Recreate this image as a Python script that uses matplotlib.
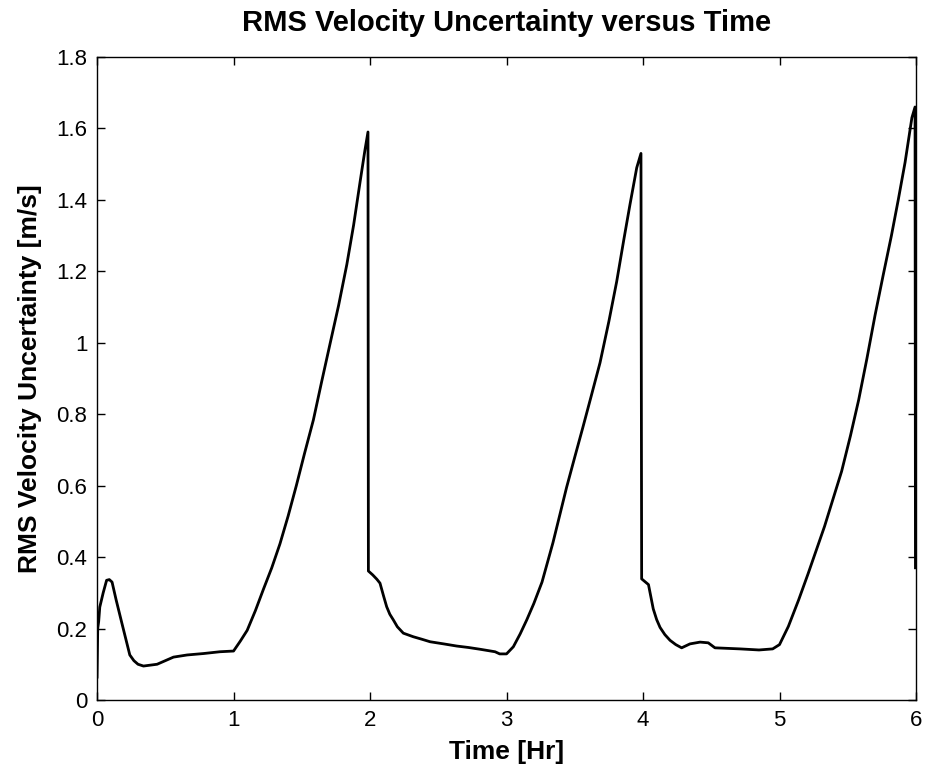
import numpy as np
import matplotlib
matplotlib.use("Agg")
import matplotlib.pyplot as plt
from matplotlib.ticker import FuncFormatter

plt.rcParams['font.family'] = ['Liberation Sans', 'DejaVu Sans']

# values
time_hr = [0.0, 0.005, 0.012, 0.02, 0.045, 0.07, 0.09, 0.11, 0.14, 0.18, 0.21, 0.24, 0.27, 0.3, 0.34,
           0.44, 0.5, 0.56, 0.66, 0.78, 0.9, 1.0,
           1.05, 1.1, 1.16, 1.22, 1.28, 1.34, 1.40, 1.46, 1.52, 1.585, 1.645, 1.707, 1.77, 1.83,
           1.88, 1.927, 1.963, 1.985,
           1.988, 2.02, 2.05, 2.073, 2.1, 2.122, 2.145, 2.171, 2.2, 2.244, 2.317, 2.38, 2.44, 2.54,
           2.635, 2.72, 2.806, 2.916, 2.95, 3.0,
           3.05, 3.1, 3.148, 3.2, 3.26, 3.34, 3.44, 3.5, 3.56, 3.62, 3.685, 3.75, 3.807, 3.86,
           3.905, 3.954, 3.985,
           3.99, 4.04, 4.075, 4.1, 4.125, 4.16, 4.198, 4.24, 4.283, 4.344, 4.418, 4.478, 4.527,
           4.71, 4.85, 4.95, 5.0,
           5.065, 5.14, 5.21, 5.27, 5.33, 5.39, 5.455, 5.52, 5.58, 5.64, 5.70, 5.76, 5.82, 5.87,
           5.92, 5.95, 5.97, 5.993, 5.996]
vel_unc = [0.064, 0.2, 0.22, 0.26, 0.3, 0.335, 0.337, 0.33, 0.28, 0.218, 0.172, 0.126, 0.11, 0.1, 0.095,
           0.10, 0.11, 0.12, 0.126, 0.13, 0.135, 0.137,
           0.165, 0.195, 0.25, 0.311, 0.37, 0.437, 0.515, 0.60, 0.69, 0.784, 0.89, 0.997, 1.105, 1.219,
           1.33, 1.45, 1.54, 1.59,
           0.361, 0.35, 0.338, 0.327, 0.29, 0.261, 0.24, 0.224, 0.205, 0.187, 0.177, 0.17, 0.163, 0.157,
           0.151, 0.147, 0.142, 0.135, 0.129, 0.129,
           0.149, 0.185, 0.224, 0.27, 0.33, 0.44, 0.595, 0.68, 0.764, 0.85, 0.944, 1.06, 1.171, 1.29,
           1.388, 1.49, 1.53,
           0.339, 0.323, 0.255, 0.225, 0.203, 0.183, 0.167, 0.155, 0.146, 0.157, 0.162, 0.16, 0.146,
           0.143, 0.14, 0.143, 0.155,
           0.206, 0.28, 0.354, 0.42, 0.486, 0.56, 0.64, 0.74, 0.84, 0.955, 1.077, 1.19, 1.30, 1.40,
           1.505, 1.58, 1.63, 1.66, 0.37]
x_ticks = [0, 1, 2, 3, 4, 5, 6]
y_ticks = [0, 0.2, 0.4, 0.6, 0.8, 1.0, 1.2, 1.4, 1.6, 1.8]

fig = plt.figure(figsize=(9.26, 7.75), dpi=100)
ax = fig.add_axes([0.1048, 0.0968, 0.8844, 0.8297])

ax.plot(time_hr, vel_unc, color='k', linewidth=2.0)

ax.set_xlim(0, 6)
ax.set_ylim(0, 1.8)
ax.set_xticks(x_ticks)
ax.set_yticks(y_ticks)
ax.yaxis.set_major_formatter(FuncFormatter(lambda v, p: '%g' % v))
ax.tick_params(direction='in', length=6, width=1, top=True, right=True,
               labelsize=16, pad=7)
for s in ax.spines.values():
    s.set_linewidth(1)

ax.set_title('RMS Velocity Uncertainty versus Time', fontsize=21, fontweight='bold', pad=19)
ax.set_xlabel('Time [Hr]', fontsize=19, fontweight='bold', labelpad=7)
ax.set_ylabel('RMS Velocity Uncertainty [m/s]', fontsize=19, fontweight='bold', labelpad=10)

fig.savefig('out.png', dpi=100)
